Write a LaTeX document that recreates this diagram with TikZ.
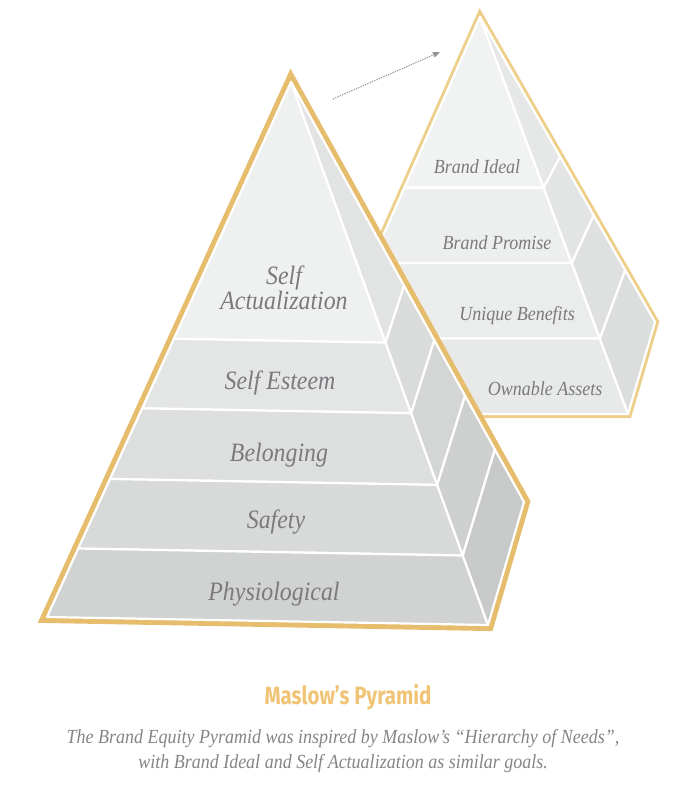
\documentclass[tikz,border=0pt]{standalone}
\usepackage{fontspec}
\setmainfont{Liberation Serif}
\newfontfamily\labfont[FakeStretch=0.9]{Liberation Serif}
\newfontfamily\ttlfont[FakeStretch=0.82]{Fira Sans}
\usetikzlibrary{calc,arrows.meta}
\definecolor{goldA}{HTML}{E6BD6C}
\definecolor{goldB}{HTML}{EDCF8A}
\definecolor{goldT}{HTML}{F0C474}
\definecolor{txt}{HTML}{7A7A7E}
\definecolor{captxt}{HTML}{858587}
\definecolor{bfa}{HTML}{EFF1F0}
\definecolor{bfb}{HTML}{E4E6E5}
\definecolor{bfc}{HTML}{DDDFDE}
\definecolor{bfd}{HTML}{D8DAD9}
\definecolor{bfe}{HTML}{D1D3D2}
\definecolor{bsa}{HTML}{E2E4E3}
\definecolor{bsb}{HTML}{DADCDB}
\definecolor{bsc}{HTML}{D4D6D5}
\definecolor{bsd}{HTML}{CED0CF}
\definecolor{bse}{HTML}{C8CAC9}
\definecolor{sfa}{HTML}{F1F3F2}
\definecolor{sfb}{HTML}{EDEFEE}
\definecolor{sfc}{HTML}{EBEDEC}
\definecolor{sfd}{HTML}{E8EAE9}
\definecolor{ssa}{HTML}{E6E8E7}
\definecolor{ssb}{HTML}{E3E5E4}
\definecolor{ssc}{HTML}{DFE1E0}
\definecolor{ssd}{HTML}{DCDEDD}
\begin{document}
\begin{tikzpicture}[x=1pt,y=-1pt,
  face/.style={draw=white, line width=2.2pt, line join=round},
  biglab/.style={text=txt, font=\labfont\itshape\fontsize{26.5}{23}\selectfont, inner sep=0pt, align=center},
  smalllab/.style={text=txt, font=\labfont\itshape\fontsize{20}{20}\selectfont, inner sep=0pt},
  rim/.style={line join=miter}]
\useasboundingbox (0,0) rectangle (700,792);
\fill[white] (0,0) rectangle (700,792);
% ---------- small pyramid ----------
\coordinate (SA) at (480,17);
\coordinate (SL) at (304,414);
\coordinate (SR) at (628,414);
\coordinate (SV) at (655,322);
\coordinate (SL1) at ($(SA)!0.43!(SL)$);
\coordinate (SL2) at ($(SA)!0.62!(SL)$);
\coordinate (SL3) at ($(SA)!0.81!(SL)$);
\coordinate (SR1) at ($(SA)!0.43!(SR)$);
\coordinate (SR2) at ($(SA)!0.62!(SR)$);
\coordinate (SR3) at ($(SA)!0.81!(SR)$);
\coordinate (SV1) at ($(SA)!0.458!(SV)$);
\coordinate (SV2) at ($(SA)!0.65!(SV)$);
\coordinate (SV3) at ($(SA)!0.83!(SV)$);
\draw[goldB, line width=8pt, rim] (SA) -- (SL) -- (SR) -- (SV) -- cycle;
\filldraw[face, fill=sfa] (SA) -- (SL1) -- (SR1) -- cycle;
\filldraw[face, fill=sfb] (SL1) -- (SL2) -- (SR2) -- (SR1) -- cycle;
\filldraw[face, fill=sfc] (SL2) -- (SL3) -- (SR3) -- (SR2) -- cycle;
\filldraw[face, fill=sfd] (SL3) -- (SL) -- (SR) -- (SR3) -- cycle;
\filldraw[face, fill=ssa] (SA) -- (SR1) -- (SV1) -- cycle;
\filldraw[face, fill=ssb] (SR1) -- (SR2) -- (SV2) -- (SV1) -- cycle;
\filldraw[face, fill=ssc] (SR2) -- (SR3) -- (SV3) -- (SV2) -- cycle;
\filldraw[face, fill=ssd] (SR3) -- (SR) -- (SV) -- (SV3) -- cycle;
\node[smalllab] (bideal) at (477,167) {Brand Ideal};
\node[smalllab] (bprom) at (497,243) {Brand Promise};
\node[smalllab] (uben) at (517,316) {Unique Benefits};
\node[smalllab] (oass) at (545,389) {Ownable Assets};
% ---------- big pyramid ----------
\coordinate (BA) at (291,82);
\coordinate (BL) at (47,617);
\coordinate (BR) at (488,625);
\coordinate (BV) at (524,502);
\coordinate (BL1) at ($(BA)!0.48!(BL)$);
\coordinate (BL2) at ($(BA)!0.61!(BL)$);
\coordinate (BL3) at ($(BA)!0.742!(BL)$);
\coordinate (BL4) at ($(BA)!0.872!(BL)$);
\coordinate (BR1) at ($(BA)!0.48!(BR)$);
\coordinate (BR2) at ($(BA)!0.61!(BR)$);
\coordinate (BR3) at ($(BA)!0.742!(BR)$);
\coordinate (BR4) at ($(BA)!0.872!(BR)$);
\coordinate (BV1) at ($(BA)!0.485!(BV)$);
\coordinate (BV2) at ($(BA)!0.615!(BV)$);
\coordinate (BV3) at ($(BA)!0.747!(BV)$);
\coordinate (BV4) at ($(BA)!0.875!(BV)$);
\draw[goldA, line width=12pt, rim] (BA) -- (BL) -- (BR) -- (BV) -- cycle;
\filldraw[face, fill=bfa] (BA) -- (BL1) -- (BR1) -- cycle;
\filldraw[face, fill=bfb] (BL1) -- (BL2) -- (BR2) -- (BR1) -- cycle;
\filldraw[face, fill=bfc] (BL2) -- (BL3) -- (BR3) -- (BR2) -- cycle;
\filldraw[face, fill=bfd] (BL3) -- (BL4) -- (BR4) -- (BR3) -- cycle;
\filldraw[face, fill=bfe] (BL4) -- (BL) -- (BR) -- (BR4) -- cycle;
\filldraw[face, fill=bsa] (BA) -- (BR1) -- (BV1) -- cycle;
\filldraw[face, fill=bsb] (BR1) -- (BR2) -- (BV2) -- (BV1) -- cycle;
\filldraw[face, fill=bsc] (BR2) -- (BR3) -- (BV3) -- (BV2) -- cycle;
\filldraw[face, fill=bsd] (BR3) -- (BR4) -- (BV4) -- (BV3) -- cycle;
\filldraw[face, fill=bse] (BR4) -- (BR) -- (BV) -- (BV4) -- cycle;
\node[biglab] (selfact) at (284,288) {Self\\Actualization};
\node[biglab] (selfest) at (280,383) {Self Esteem};
\node[biglab] (belong) at (279,455) {Belonging};
\node[biglab] (safety) at (276,522) {Safety};
\node[biglab] (physio) at (274,594) {Physiological};
% ---------- arrow ----------
\coordinate (arrS) at (333,99);
\coordinate (arrE) at (440,52);
\draw[gray!85, line width=1.1pt, dash pattern=on 1.2pt off 1.3pt,
  -{Triangle[length=7pt,width=5.5pt]}] (arrS) -- (arrE);
% ---------- caption ----------
\node[text=goldT, font=\ttlfont\bfseries\fontsize{25}{25}\selectfont, inner sep=0pt] (title) at (348,697) {Maslow’s Pyramid};
\node[text=captxt, font=\labfont\itshape\fontsize{20}{24.5}\selectfont, inner sep=0pt, align=center] (caption) at (343,751)
  {The Brand Equity Pyramid was inspired by Maslow’s “Hierarchy of Needs”,\\with Brand Ideal and Self Actualization as similar goals.};
\end{tikzpicture}
\end{document}
